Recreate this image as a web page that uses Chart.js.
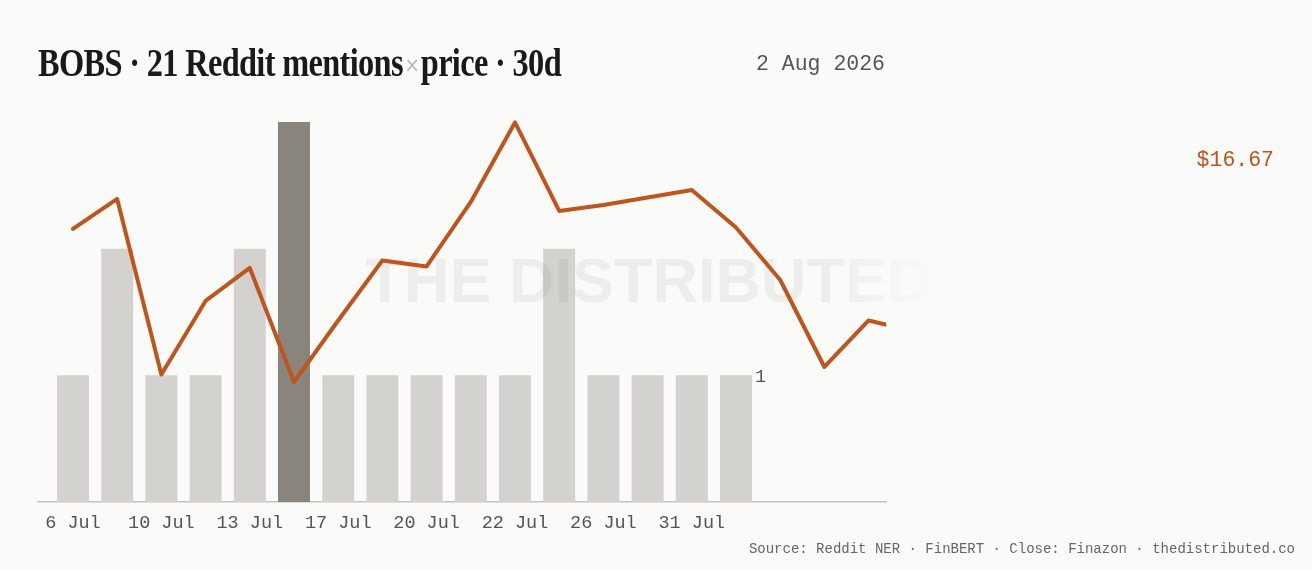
<!DOCTYPE html>
<html>
<head>
<meta charset="utf-8">
<script src="https://cdn.jsdelivr.net/npm/chart.js@4.4.1/dist/chart.umd.min.js"></script>
<style>
  html, body { margin: 0; padding: 0; background: #fafaf8; }
  #wrap { position: relative; width: 1312px; height: 570px; overflow: hidden; background: #fafaf8; }
  #c { position: absolute; left: 0; top: 0; }
  .t { position: absolute; white-space: nowrap; line-height: 1; }
  #title { left: 38px; top: 43.3px; font-family: "Liberation Serif", "DejaVu Serif", serif; font-weight: bold; font-size: 39px; color: #1a1a1a; transform-origin: 0 0; letter-spacing: -0.8px; }
  #title .x { font-weight: normal; color: #b8b8b4; font-size: 22px; font-family: "DejaVu Sans", sans-serif; vertical-align: 4px; margin: 0 2px; }
  #date { right: 427px; top: 54px; font-family: "Liberation Mono", monospace; font-size: 21.5px; color: #555; }
  #price { right: 38px; top: 150px; font-family: "Liberation Mono", monospace; font-size: 21.5px; color: #c0541d; }
  #foot { right: 17px; top: 542.3px; font-family: "Liberation Mono", monospace; font-size: 14px; color: #666; }
</style>
</head>
<body>
<div id="wrap">
  <canvas id="c" width="1312" height="570"></canvas>
  <div class="t" id="title">BOBS · 21 Reddit mentions<span class="x">×</span>price · 30d</div>
  <div class="t" id="date">2 Aug 2026</div>
  <div class="t" id="price">$16.67</div>
  <div class="t" id="foot">Source: Reddit NER · FinBERT · Close: Finazon · thedistributed.co</div>
</div>
<script>
// ---- data ----
const dates = ["6 Jul","8 Jul","10 Jul","11 Jul","13 Jul","15 Jul","17 Jul","19 Jul",
               "20 Jul","21 Jul","22 Jul","24 Jul","26 Jul","29 Jul","31 Jul","1 Aug"];
const mentions = [1,2,1,1,2,3,1,1,1,1,1,2,1,1,1,1];
const closes = [17.35,17.55,16.38,16.87,17.09,16.33,16.74,17.14,17.10,17.53,
                18.06,17.47,17.51,17.56,17.61,17.36,17.01,16.43,16.74,16.67];
const tickEvery = 2;
const lastTickIndex = 14;
const highlightIndex = 5;

const barColor = "#d3d2ce";
const barHighlight = "#8a857c";
const lineColor = "#c0541d";

const barData = mentions.map((v, i) => ({ x: i, y: v }));
const lineData = closes.map((v, i) => ({ x: i, y: v }));
const tickValues = [];
for (let i = 0; i <= lastTickIndex; i += tickEvery) tickValues.push(i);

const watermark = {
  id: "watermark",
  afterDatasetDraw(chart, args) {
    if (args.index !== 0) return;
    const ctx = chart.ctx;
    ctx.save();
    ctx.font = "bold 63px 'Liberation Sans', Arial, sans-serif";
    ctx.textAlign = "center";
    ctx.textBaseline = "middle";
    const g = ctx.createLinearGradient(360, 0, 940, 0);
    g.addColorStop(0, "rgba(0,0,0,0.05)");
    g.addColorStop(0.8, "rgba(0,0,0,0.05)");
    g.addColorStop(1, "rgba(0,0,0,0.0)");
    ctx.fillStyle = g;
    ctx.fillText("THE DISTRIBUTED", 649, 285);
    ctx.restore();
  }
};

const lastLabel = {
  id: "lastLabel",
  afterDatasetsDraw(chart) {
    const meta = chart.getDatasetMeta(0);
    const el = meta.data[meta.data.length - 1];
    if (!el) return;
    const ctx = chart.ctx;
    ctx.save();
    ctx.font = "18.5px 'Liberation Mono', monospace";
    ctx.fillStyle = "#555";
    ctx.textAlign = "left";
    ctx.textBaseline = "middle";
    ctx.fillText(String(mentions[mentions.length - 1]), el.x + el.width / 2 + 3, el.y + 2);
    ctx.restore();
  }
};

new Chart(document.getElementById("c"), {
  data: {
    datasets: [
      {
        type: "bar",
        data: barData,
        yAxisID: "y",
        order: 1,
        backgroundColor: mentions.map((v, i) => i === highlightIndex ? barHighlight : barColor),
        borderWidth: 0,
        barPercentage: 0.724,
        categoryPercentage: 1
      },
      {
        type: "line",
        data: lineData,
        yAxisID: "y2",
        order: 0,
        borderColor: lineColor,
        borderWidth: 4,
        pointRadius: 0,
        tension: 0,
        borderJoinStyle: "round",
        borderCapStyle: "round",
        clip: { left: 4, top: 6, right: 0, bottom: 6 }
      }
    ]
  },
  options: {
    responsive: false,
    animation: false,
    events: [],
    layout: { padding: { left: 37.6, right: 1312 - 886.3, top: 122, bottom: 0 } },
    plugins: { legend: { display: false }, tooltip: { enabled: false } },
    scales: {
      x: {
        type: "linear",
        min: -0.8,
        max: 18.4,
        offset: false,
        grid: { display: false, drawTicks: false, offset: false },
        border: { display: true, color: "#c2c2be", width: 1.6 },
        afterBuildTicks(scale) { scale.ticks = tickValues.map(v => ({ value: v })); },
        afterFit(scale) { scale.height = 68; },
        ticks: {
          autoSkip: false,
          maxRotation: 0,
          padding: 10,
          color: "#555",
          font: { family: "'Liberation Mono', monospace", size: 18.5 },
          callback: (v) => dates[v]
        }
      },
      y: { display: false, min: 0, max: 3 },
      y2: { display: false, min: 15.53, max: 18.063 }
    }
  },
  plugins: [watermark, lastLabel]
});

// fit the title to its measured width in the reference
(function fitTitle() {
  const el = document.getElementById("title");
  const w = el.getBoundingClientRect().width;
  if (w > 0) el.style.transform = "scaleX(" + (523 / w) + ")";
})();
</script>
</body>
</html>
